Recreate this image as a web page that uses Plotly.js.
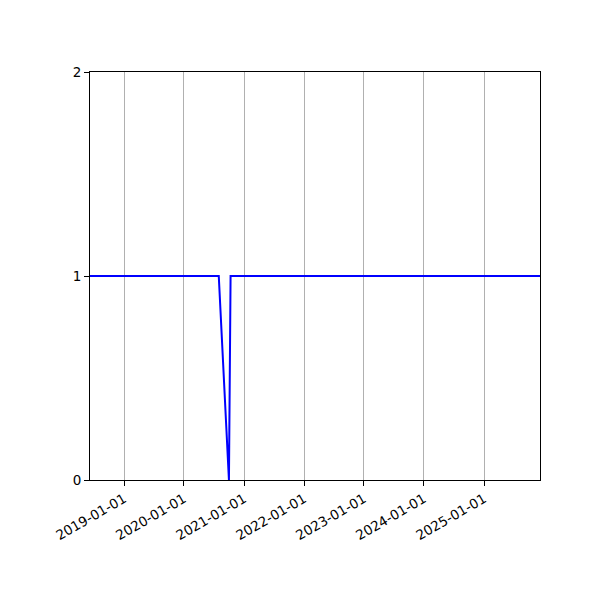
<!DOCTYPE html>
<html><head><meta charset="utf-8">
<script src="https://cdn.plot.ly/plotly-3.0.1.min.js"></script>
<style>body{margin:0}#c{width:600px;height:600px}</style>
</head><body><div id="c"></div>
<script>
const dates = ['2018-06-08','2020-07-31','2020-10-01','2020-10-11','2025-12-08'];
const values = [1, 1, 0, 1, 1];
const xTickVals = ['2019-01-01','2020-01-01','2021-01-01','2022-01-01','2023-01-01','2024-01-01','2025-01-01'];
const yTickVals = [0, 1, 2];

const trace = {x: dates, y: values, type: 'scatter', mode: 'lines',
  line: {color: '#0000ff', width: 2}, hoverinfo: 'none'};

const layout = {
  width: 600, height: 600,
  margin: {l: 90, r: 60, t: 72, b: 120},
  paper_bgcolor: '#ffffff', plot_bgcolor: '#ffffff',
  font: {family: 'DejaVu Sans', size: 13.5, color: '#000'},
  showlegend: false,
  xaxis: {type: 'date', range: [dates[0], dates[dates.length-1]],
    tickvals: xTickVals, ticktext: xTickVals, tickangle: -30,
    showgrid: true, gridcolor: '#b0b0b0', gridwidth: 1,
    showline: true, linecolor: '#000', linewidth: 1, mirror: true,
    ticks: 'outside', ticklen: 5, tickcolor: '#000', zeroline: false},
  yaxis: {range: [0, 2], tickvals: yTickVals, ticktext: yTickVals.map(String),
    showgrid: false, showline: true, linecolor: '#000', linewidth: 1, mirror: true,
    ticks: 'outside', ticklen: 5, tickcolor: '#000', zeroline: false}
};
Plotly.newPlot('c', [trace], layout, {staticPlot: true});
</script></body></html>
